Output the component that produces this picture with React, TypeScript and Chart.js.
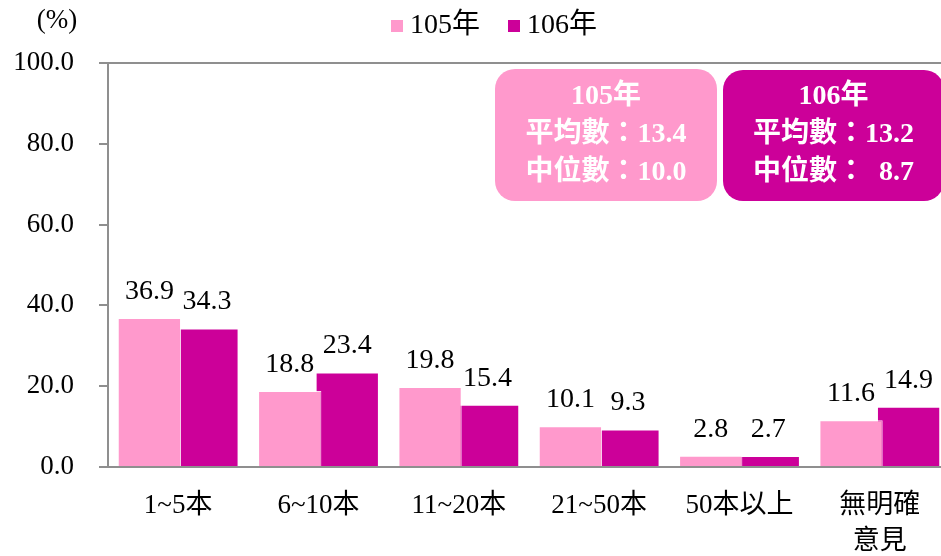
import React, { useEffect, useRef } from "react";
import { Chart, registerables } from "chart.js";

Chart.register(...registerables);

const categories: (string | string[])[] = ["1~5本", "6~10本", "11~20本", "21~50本", "50本以上", ["無明確", "意見"]];
const seriesNames = ["105年", "106年"];
const values105 = [36.9, 18.8, 19.8, 10.1, 2.8, 11.6];
const values106 = [34.3, 23.4, 15.4, 9.3, 2.7, 14.9];
const colors = ["#FF99CC", "#CC0099"];
const yMin = 0;
const yMax = 100;
const yStep = 20;
const meanValues = ["13.4", "13.2"];
const medianValues = ["10.0", "  8.7"];
const unitLabel = "(%)";

const FONT = '"Liberation Serif", "Noto Sans CJK TC", serif';
const AXIS_GRAY = "#8f8f8f";

const overlayPlugin = {
  id: "overlay",
  afterDatasetsDraw(chart: any) {
    const ctx = chart.ctx;
    ctx.save();
    ctx.font = `28px ${FONT}`;
    ctx.fillStyle = "#000";
    ctx.textAlign = "center";
    ctx.textBaseline = "alphabetic";
    chart.data.datasets.forEach((ds: any, di: number) => {
      const meta = chart.getDatasetMeta(di);
      meta.data.forEach((el: any, i: number) => {
        const v = ds.data[i] as number;
        ctx.fillText(v.toFixed(1), el.x, el.y - 19);
      });
    });
    ctx.restore();
  },
  afterDraw(chart: any) {
    const ctx = chart.ctx;
    ctx.save();
    // unit label
    ctx.font = `27px ${FONT}`;
    ctx.fillStyle = "#000";
    ctx.textAlign = "center";
    ctx.textBaseline = "middle";
    ctx.fillText(unitLabel, 57, 21);

    // legend
    const legendX = [391, 508];
    seriesNames.forEach((name, i) => {
      ctx.fillStyle = colors[i];
      ctx.fillRect(legendX[i], 20, 12, 12);
      ctx.fillStyle = "#000";
      ctx.textAlign = "left";
      ctx.textBaseline = "middle";
      ctx.font = `28px ${FONT}`;
      ctx.fillText(name, legendX[i] + 19, 26);
    });

    // summary boxes
    const boxes = [
      { x: 495, y: 69, w: 222, h: 132 },
      { x: 723, y: 70, w: 221, h: 131 },
    ];
    boxes.forEach((b, i) => {
      ctx.fillStyle = colors[i];
      ctx.beginPath();
      (ctx as any).roundRect(b.x, b.y, b.w, b.h, 20);
      ctx.fill();
      ctx.fillStyle = "#fff";
      ctx.font = `bold 28px ${FONT}`;
      ctx.textAlign = "center";
      ctx.textBaseline = "middle";
      const cx = b.x + b.w / 2;
      ctx.fillText(seriesNames[i], cx, 97);
      ctx.fillText("平均數：" + meanValues[i], cx, 135);
      ctx.fillText("中位數：" + medianValues[i], cx, 173);
    });
    ctx.restore();
  },
};

export default function App() {
  const ref = useRef<HTMLCanvasElement | null>(null);
  useEffect(() => {
    if (!ref.current) return;
    const chart = new Chart(ref.current, {
      type: "bar",
      data: {
        labels: categories as any,
        datasets: [
          {
            label: seriesNames[0],
            data: values105,
            backgroundColor: colors[0],
            borderColor: "rgba(255,255,255,0.85)",
            borderWidth: 1,
            categoryPercentage: 0.82,
            barPercentage: 1.1,
          },
          {
            label: seriesNames[1],
            data: values106,
            backgroundColor: colors[1],
            borderColor: "rgba(255,255,255,0.85)",
            borderWidth: 1,
            categoryPercentage: 0.82,
            barPercentage: 1.1,
          },
        ],
      },
      options: {
        responsive: false,
        animation: false,
        devicePixelRatio: 1,
        layout: { padding: { top: 63, right: 2, left: 0, bottom: 0 } },
        plugins: {
          legend: { display: false },
          tooltip: { enabled: false },
        },
        scales: {
          x: {
            grid: { display: false, drawTicks: false },
            border: { display: true, color: AXIS_GRAY, width: 2 },
            ticks: {
              color: "#000",
              font: { family: FONT, size: 27, lineHeight: 1.33 },
              padding: 21,
              maxRotation: 0,
              autoSkip: false,
            },
            afterFit: (s: any) => {
              s.height = 89;
            },
          },
          y: {
            min: yMin,
            max: yMax,
            grid: {
              color: (c: any) => (c.tick && c.tick.value === yMax ? AXIS_GRAY : "rgba(0,0,0,0)"),
              tickColor: AXIS_GRAY,
              tickLength: 9,
              lineWidth: 2,
            },
            border: { display: true, color: AXIS_GRAY, width: 2 },
            ticks: {
              stepSize: yStep,
              color: "#000",
              font: { family: FONT, size: 27 },
              padding: 25,
              callback: (v: any) => Number(v).toFixed(1),
            },
            afterFit: (s: any) => {
              s.width = 108;
            },
          },
        },
      },
      plugins: [overlayPlugin],
    });
    return () => chart.destroy();
  }, []);
  return (
    <div style={{ position: "fixed", left: 0, top: 0, width: 941, height: 556, overflow: "hidden", background: "#fff" }}>
      <canvas ref={ref} width={952} height={556} style={{ width: 952, height: 556, display: "block" }} />
    </div>
  );
}
